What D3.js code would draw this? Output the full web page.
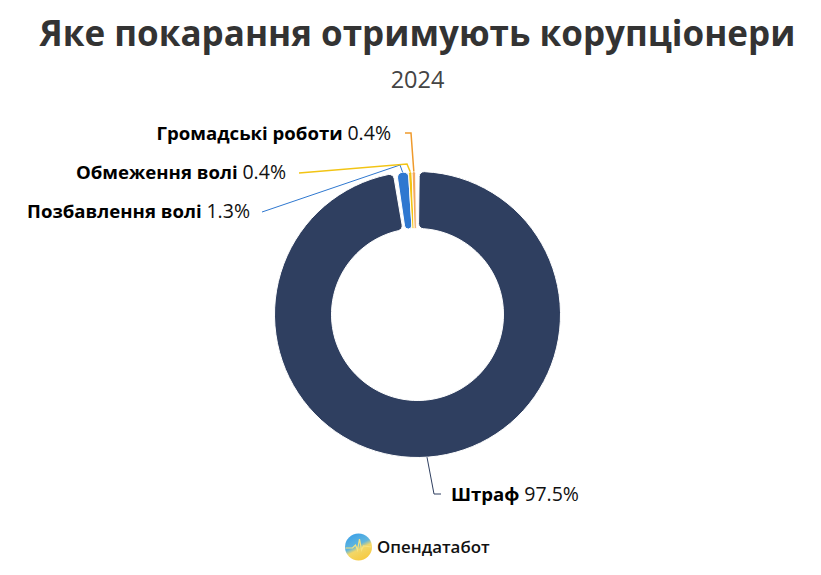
<!DOCTYPE html>
<html>
<head>
<meta charset="utf-8">
<script src="https://cdn.jsdelivr.net/npm/d3@7"></script>
<style>
  html, body { margin: 0; background: #fff; }
  svg { display: block; font-family: "Open Sans", "Noto Sans", sans-serif; }
</style>
</head>
<body>
<div id="chart"></div>
<script>
const categories = ["Штраф", "Позбавлення волі", "Обмеження волі", "Громадські роботи"];
const values = [97.5, 1.3, 0.4, 0.4];
const valueLabels = ["97.5%", "1.3%", "0.4%", "0.4%"];
const colors = ["#2f3f60", "#2f78d0", "#f2c414", "#f4a860"];

const width = 821, height = 575;
const cx = 417.5, cy = 314.5;
const outerR = 143, innerR = 86;

// Ручная раскладка подписей: излом линии и конец линии
const labelLayout = [
    { elbow: [434, 494], end: [441, 494], x: 451, y: 494, anchor: "start" },
    { elbow: [400, 165], end: [262, 212], x: 250, y: 211, anchor: "end" },
    { elbow: [407, 164], end: [299, 173], x: 286, y: 172, anchor: "end" },
    { elbow: [411, 133], end: [405, 133], x: 391, y: 133, anchor: "end" }
];
const lineColors = ["#2f3f60", "#2f78d0", "#f2c414", "#ef9a2c"];
const lineWidths = [1, 1, 1.5, 1.5];

const svg = d3.select("#chart").append("svg")
    .attr("width", width)
    .attr("height", height);

svg.append("text")
    .attr("x", width / 2 + 7)
    .attr("y", 46)
    .attr("text-anchor", "middle")
    .attr("font-size", 35)
    .attr("font-weight", 700)
    .attr("fill", "#333")
    .text("Яке покарання отримують корупціонери");

svg.append("text")
    .attr("x", width / 2 + 7)
    .attr("y", 88)
    .attr("text-anchor", "middle")
    .attr("font-size", 23.5)
    .attr("fill", "#444")
    .text("2024");

const start = 0.012;
const pie = d3.pie()
    .sort(null)
    .startAngle(start)
    .endAngle(start + 2 * Math.PI * d3.sum(values) / 100);
const arcs = pie(values);

const arc = d3.arc()
    .innerRadius(innerR)
    .outerRadius(outerR)
    .cornerRadius(5);

const g = svg.append("g").attr("transform", `translate(${cx},${cy})`);

// Большой сектор чуть короче, чтобы был зазор перед синим
const navyGap = 0.025;
g.selectAll("path")
    .data(arcs)
    .enter().append("path")
    .attr("d", (d, i) => arc(i === 0 ? { ...d, endAngle: d.endAngle - navyGap } : d))
    .attr("fill", (d, i) => colors[i])
    .attr("stroke", "#fff")
    .attr("stroke-width", 1);

// Линии-выноски
const lines = svg.append("g").attr("fill", "none");
arcs.forEach((d, i) => {
    const a = (d.startAngle + d.endAngle) / 2;
    const p = [cx + outerR * Math.sin(a), cy - outerR * Math.cos(a)];
    const l = labelLayout[i];
    lines.append("path")
        .attr("d", d3.line()([p, l.elbow, l.end]))
        .attr("stroke", lineColors[i])
        .attr("stroke-width", lineWidths[i]);
});

// Подписи
arcs.forEach((d, i) => {
    const l = labelLayout[i];
    const t = svg.append("text")
        .attr("x", l.x)
        .attr("y", l.y)
        .attr("dy", "0.35em")
        .attr("text-anchor", l.anchor)
        .attr("font-size", 18.6)
        .attr("fill", "#000");
    t.append("tspan").attr("font-weight", 700).text(categories[i] + " ");
    t.append("tspan").attr("fill", "#111").attr("font-size", 19.5).text(valueLabels[i]);
});

// Логотип
const defs = svg.append("defs");
const grad = defs.append("linearGradient")
    .attr("id", "logo-grad")
    .attr("x1", 0.2).attr("y1", 0)
    .attr("x2", 0.7).attr("y2", 1);
grad.append("stop").attr("offset", "0%").attr("stop-color", "#3aa0ea");
grad.append("stop").attr("offset", "45%").attr("stop-color", "#62b6dc");
grad.append("stop").attr("offset", "60%").attr("stop-color", "#f2d768");
grad.append("stop").attr("offset", "100%").attr("stop-color", "#f7c93e");

const logo = svg.append("g").attr("transform", "translate(358.5,547)");
logo.append("circle").attr("r", 13.5).attr("fill", "url(#logo-grad)");
logo.append("path")
    .attr("d", d3.line()([[-13, 1], [-6, 1], [-3, -2], [-1, 3], [1, -8], [3, 3], [5, -1], [13, 0]]))
    .attr("fill", "none")
    .attr("stroke", "#f7e27e")
    .attr("stroke-width", 1.2);

svg.append("text")
    .attr("x", 377)
    .attr("y", 547)
    .attr("dy", "0.35em")
    .attr("font-size", 16.9)
    .attr("font-weight", 600)
    .attr("fill", "#111")
    .text("Опендатабот");
</script>
</body>
</html>
